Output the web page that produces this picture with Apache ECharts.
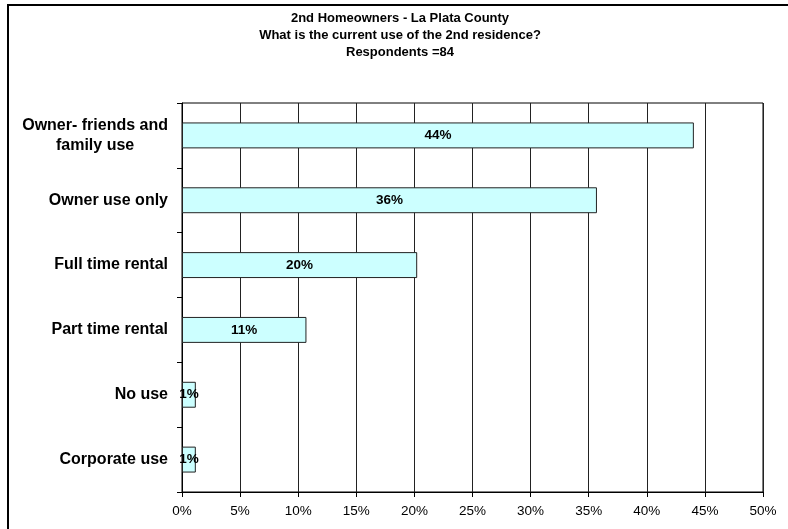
<!DOCTYPE html>
<html>
<head>
<meta charset="utf-8">
<script src="https://cdn.jsdelivr.net/npm/echarts@6/dist/echarts.min.js"></script>
<style>
  html, body { margin: 0; padding: 0; background: #fff; }
  #chart { width: 788px; height: 529px; }
</style>
</head>
<body>
<div id="chart"></div>
<script>
// Survey: current use of the 2nd residence (share of 84 respondents), top to bottom
const categories = [
  'Owner- friends and\nfamily use',
  'Owner use only',
  'Full time rental',
  'Part time rental',
  'No use',
  'Corporate use'
];
const shares = [44.05, 35.71, 20.24, 10.71, 1.19, 1.19];
const titleLines = [
  '2nd Homeowners - La Plata County',
  'What is the current use of the 2nd residence?',
  'Respondents =84'
];

const FONT = 'Liberation Sans, Arial, sans-serif';
const chart = echarts.init(document.getElementById('chart'), null, { renderer: 'canvas' });

chart.setOption({
  animation: false,
  backgroundColor: '#ffffff',
  title: {
    text: titleLines.join('\n'),
    left: 395,
    textAlign: 'center',
    top: 5,
    textStyle: {
      fontFamily: FONT,
      fontSize: 13,
      fontWeight: 'bold',
      color: '#000',
      lineHeight: 17
    }
  },
  graphic: [{
    type: 'rect',
    silent: true,
    shape: { x: 8, y: 5, width: 800, height: 600 },
    style: { fill: 'none', stroke: '#000', lineWidth: 2 }
  }],
  grid: {
    left: 182,
    right: 25,
    top: 103,
    bottom: 37,
    show: true,
    borderColor: '#000',
    borderWidth: 1,
    backgroundColor: '#fff'
  },
  xAxis: {
    type: 'value',
    min: 0,
    max: 50,
    interval: 5,
    axisLine: { show: true, lineStyle: { color: '#000', width: 1 } },
    axisTick: { show: true, length: 5, lineStyle: { color: '#000' } },
    splitLine: { show: true, lineStyle: { color: '#222', width: 1 } },
    axisLabel: {
      formatter: v => v + '%',
      fontFamily: FONT,
      fontSize: 13.5,
      color: '#000',
      margin: 12
    }
  },
  yAxis: {
    type: 'category',
    data: categories,
    inverse: true,
    axisLine: { show: true, lineStyle: { color: '#000', width: 1 } },
    axisTick: { show: true, length: 5, lineStyle: { color: '#000' } },
    splitLine: { show: false },
    axisLabel: {
      margin: 14,
      formatter: v => '{c|' + v + '}',
      rich: {
        c: {
          align: 'center',
          fontFamily: FONT,
          fontSize: 16,
          fontWeight: 'bold',
          color: '#000',
          lineHeight: 20
        }
      }
    }
  },
  series: [{
    type: 'bar',
    data: shares,
    barWidth: '40%',
    itemStyle: { color: '#ccffff', borderColor: '#222', borderWidth: 1 },
    label: {
      show: true,
      position: 'inside',
      formatter: p => Math.round(p.value) + '%',
      fontFamily: FONT,
      fontSize: 13.5,
      fontWeight: 'bold',
      color: '#000'
    }
  }]
});
</script>
</body>
</html>
